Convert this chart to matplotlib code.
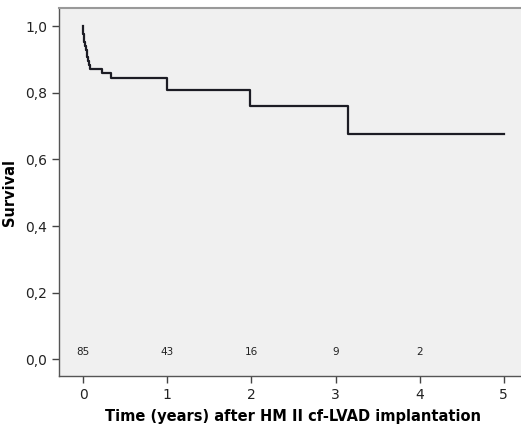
import numpy as np
from matplotlib import pyplot as plt

# Kaplan-Meier steps
event_times = [0.002, 0.005, 0.010, 0.016, 0.024, 0.033, 0.042, 0.052, 0.062, 0.072, 0.083,
               0.23, 0.33, 1.0, 1.98, 3.15]
survival = [0.988, 0.976, 0.965, 0.953, 0.941, 0.929, 0.918, 0.906, 0.894, 0.882, 0.871,
            0.860, 0.845, 0.808, 0.759, 0.676]
end_time = 5.0

risk_times = [0, 1, 2, 3, 4]
at_risk = ['85', '43', '16', '9', '2']

yticks = [0.0, 0.2, 0.4, 0.6, 0.8, 1.0]
ytick_labels = ['0,0', '0,2', '0,4', '0,6', '0,8', '1,0']

plt.rcParams['font.family'] = ['DejaVu Sans']

fig = plt.figure(figsize=(5.21, 4.28), dpi=100)
# axes run past the right edge of the figure, as in the original
ax = fig.add_axes([0.1132, 0.1215, 0.90, 0.8598])
ax.set_facecolor('#f0f0f0')

t = [0.0] + event_times + [end_time]
s = [1.0] + survival + [survival[-1]]
ax.step(t, s, where='post', color='#1c1c24', lw=1.6)

for x, n in zip(risk_times, at_risk):
    ax.text(x, 0.022, n, ha='center', va='center', fontsize=7.5, color='#222222')

ax.set_xlim(-0.286, 5.286)
ax.set_ylim(-0.05, 1.054)
ax.set_xticks([0, 1, 2, 3, 4, 5])
ax.set_yticks(yticks)
ax.set_yticklabels(ytick_labels)
ax.tick_params(direction='out', length=5, width=1, color='#444444', labelsize=10, labelcolor='#222222')

for side in ['left', 'bottom']:
    ax.spines[side].set_color('#555555')
    ax.spines[side].set_linewidth(1.0)
ax.spines['top'].set_color('#999999')
ax.spines['top'].set_linewidth(1.5)
ax.spines['right'].set_visible(False)

ax.set_xlabel('Time (years) after HM II cf-LVAD implantation', fontsize=10.5, fontweight='bold', labelpad=5)
ax.set_ylabel('Survival', fontsize=10.5, fontweight='bold', labelpad=6)

fig.savefig('out.png', dpi=100)
